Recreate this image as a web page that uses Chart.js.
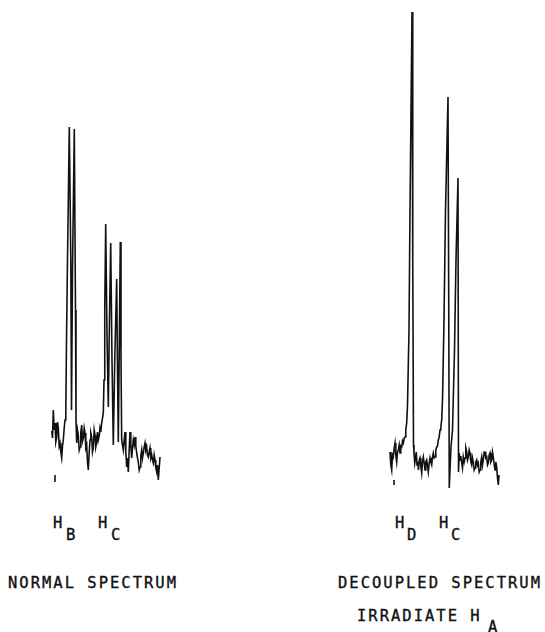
<!DOCTYPE html>
<html>
<head>
<meta charset="utf-8">
<script src="https://cdn.jsdelivr.net/npm/chart.js@4/dist/chart.umd.min.js"></script>
<style>
  html, body { margin: 0; padding: 0; background: #fff; }
  #wrap { position: relative; width: 545px; height: 632px; overflow: hidden; }
  canvas { position: absolute; left: 0; top: 0; }
  .t { position: absolute; font-family: "DejaVu Sans Mono", monospace; font-size: 15.5px; line-height: 15px;
       color: #111; letter-spacing: 2px; white-space: nowrap; -webkit-text-stroke: 0.35px #111; }
</style>
</head>
<body>
<div id="wrap">
  <canvas id="c" width="545" height="500"></canvas>
  <div class="t" style="left:53px;top:516px">H</div>
  <div class="t" style="left:66px;top:528px">B</div>
  <div class="t" style="left:98px;top:516px">H</div>
  <div class="t" style="left:111px;top:528px">C</div>
  <div class="t" style="left:8px;top:576px">NORMAL SPECTRUM</div>

  <div class="t" style="left:395px;top:516px">H</div>
  <div class="t" style="left:407px;top:528px">D</div>
  <div class="t" style="left:439px;top:516px">H</div>
  <div class="t" style="left:451px;top:528px">C</div>
  <div class="t" style="left:338px;top:576px">DECOUPLED SPECTRUM</div>
  <div class="t" style="left:357px;top:609px">IRRADIATE H</div>
  <div class="t" style="left:488px;top:620px">A</div>
</div>
<script>
// Normal spectrum trace (position units along chart paper, relative intensity)
const normalPos = [10.34,10.5,10.66,10.84,11.0,11.16,11.34,11.5,11.66,11.84,12.0,12.16,12.34,12.5,12.66,12.84,13.0,13.16,
  13.3,13.5,13.86,14.16,14.3,14.5,14.86,15.1,
  15.2,15.34,15.5,15.66,15.84,16.0,16.16,16.34,16.5,16.66,16.84,17.0,17.16,17.34,17.5,17.66,17.84,18.0,18.16,18.34,18.5,18.66,18.84,19.0,19.16,19.34,19.5,19.66,19.84,20.0,20.16,20.34,20.5,20.66,
  20.8,20.95,21.14,21.4,21.66,21.85,22.14,22.4,22.66,22.95,23.34,23.5,23.66,23.85,24.06,24.2,24.34,
  24.5,24.66,24.84,25.0,25.16,25.34,25.5,25.66,25.84,26.0,26.16,26.34,26.5,26.66,26.84,27.0,27.16,27.34,27.5,27.66,27.84,28.0,28.16,28.34,28.5,28.66,28.84,29.0,29.16,29.34,29.5,29.66,29.84,30.0,30.16,30.34,30.5,30.66,30.84,31.0,31.16,31.34,31.5,31.66,31.84,32.0];
const normalInt = [5.8,4.4,10.0,6.0,7.4,3.6,4.4,7.6,6.4,2.8,3.4,1.6,0.4,2.8,4.0,6.4,8.0,9.0,
  24,40,66.6,40,10.0,38,66.2,30,
  8.0,3.4,6.0,5.0,2.0,2.6,5.6,7.0,3.8,4.4,6.4,5.4,2.4,3.0,-0.4,-2.0,1.6,4.0,5.4,4.6,1.6,2.4,6.0,5.0,2.6,3.4,5.6,4.0,4.8,6.4,5.6,7.4,8.4,9.4,
  16.0,30,47.2,25,10.6,25,43.4,20,3.0,20,36.2,18,3.6,22,43.6,20,4.0,
  3.0,2.0,4.0,5.6,1.6,-1.4,0.4,-2.4,2.0,5.6,3.0,0.4,2.4,4.0,3.0,4.6,2.8,1.4,0.4,-0.4,-2.0,-1.4,0.8,2.0,0.4,1.4,2.6,3.4,2.0,2.6,1.0,0.6,1.6,2.4,0.4,1.0,0.0,-0.6,1.0,0.0,-1.6,-2.4,-1.0,-4.0,-1.6,0.6];

// Decoupled spectrum trace
const decoupledPos = [78.0,78.16,78.34,78.5,78.66,78.84,79.0,79.16,79.34,79.5,79.66,79.84,80.0,80.16,80.34,80.5,80.66,80.84,81.0,81.16,81.34,
  81.5,81.8,82.0,82.4,82.55,
  82.7,82.8,82.95,83.1,83.25,83.4,83.55,83.7,83.85,84.0,84.16,84.34,84.5,84.66,84.84,85.0,85.16,85.34,85.5,85.66,85.84,86.0,86.16,86.34,86.5,86.66,86.84,87.0,87.16,87.34,87.5,87.66,87.84,88.0,88.16,88.34,
  88.5,88.8,89.1,89.6,89.75,89.85,90.0,90.2,90.5,90.9,91.2,91.6,91.7,
  91.84,92.0,92.16,92.34,92.5,92.66,92.84,93.0,93.16,93.34,93.5,93.66,93.84,94.0,94.16,94.34,94.5,94.66,94.84,95.0,95.16,95.34,95.5,95.66,95.84,96.0,96.16,96.34,96.5,96.66,96.84,97.0,97.16,97.34,97.5,97.66,97.84,98.0,98.16,98.34,98.5,98.66,98.84,99.0,99.16,99.34,99.5,99.66,99.8];
const decoupledInt = [1.6,-1.0,-2.0,1.0,0.6,2.4,3.4,1.0,-0.4,1.6,2.0,3.0,1.4,2.8,2.6,3.8,3.4,4.4,4.6,6.0,7.4,
  11.0,26.0,50.0,89.6,40.0,
  3.0,1.4,-0.6,0.4,1.6,-1.0,-0.4,-2.0,0.0,0.4,-1.2,-2.6,-0.4,0.6,-0.6,-2.0,-0.4,0.0,-1.2,-2.4,-0.6,0.4,-0.4,-1.0,0.6,1.4,0.4,0.6,2.0,2.6,2.8,4.0,4.6,6.0,6.6,8.0,
  12.0,28.0,50.0,72.6,30.0,-5.6,-2.0,2.6,6.0,22.0,40.0,56.4,-2.4,
  1.4,0.0,0.8,-0.6,-1.6,0.6,-0.4,0.4,2.4,1.6,0.0,0.6,2.0,1.4,-0.4,-1.0,0.4,-0.4,-2.0,-1.6,-0.4,0.0,-1.0,-0.6,-2.4,-2.0,-0.4,0.6,-1.0,0.0,1.6,1.6,0.4,0.6,-1.0,-0.6,1.0,1.4,-0.4,0.0,1.6,0.6,-1.0,-2.0,-0.4,-1.4,-3.6,-5.0,-3.0];

// Small reference marks under each trace
const markPos = [11.0, 11.0, 11.0, 78.8, 78.8];
const markInt = [-3.0, -4.4, null, -4.0, -5.0];

function pts(xs, ys) {
  const n = Math.min(xs.length, ys.length);
  const out = [];
  for (let i = 0; i < n; i++) out.push({ x: xs[i], y: ys[i] });
  return out;
}

const ink = '#111111';
const lineStyle = { borderColor: ink, borderWidth: 1.6, pointRadius: 0, tension: 0, fill: false, borderJoinStyle: 'miter' };
new Chart(document.getElementById('c'), {
  type: 'line',
  data: {
    datasets: [
      Object.assign({ data: pts(normalPos, normalInt) }, lineStyle),
      Object.assign({ data: pts(decoupledPos, decoupledInt) }, lineStyle),
      Object.assign({ data: pts(markPos, markInt), spanGaps: false }, lineStyle)
    ]
  },
  options: {
    responsive: false,
    animation: false,
    events: [],
    layout: { padding: 0 },
    plugins: { legend: { display: false }, tooltip: { enabled: false }, title: { display: false } },
    scales: {
      x: { type: 'linear', min: 0, max: 109, display: false },
      y: { type: 'linear', min: -8, max: 92, display: false }
    }
  }
});
</script>
</body>
</html>
